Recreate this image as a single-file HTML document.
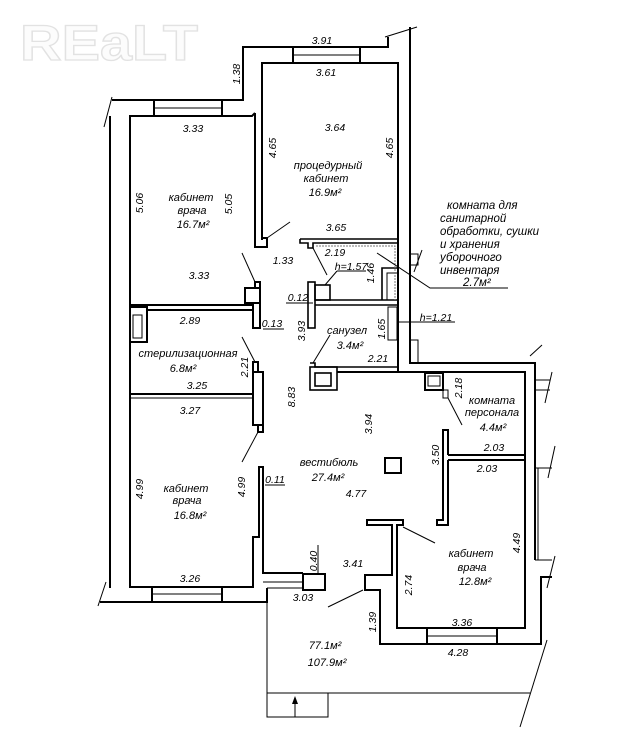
<!DOCTYPE html>
<html><head><meta charset="utf-8">
<style>
html,body{margin:0;padding:0;background:#fff;}
svg{display:block;}
text{font-family:"Liberation Sans","DejaVu Sans",sans-serif;font-style:italic;font-size:10.5px;fill:#000;}
.r{font-size:11px;}
.c{font-size:11.5px;}
</style></head><body>
<svg width="623" height="734" viewBox="0 0 623 734" xmlns="http://www.w3.org/2000/svg">
<rect width="623" height="734" fill="#fff"/>
<!-- watermark -->
<text x="20" y="60" textLength="178" lengthAdjust="spacingAndGlyphs" style="font-family:'Liberation Sans',sans-serif;font-style:normal;font-weight:bold;font-size:50px;fill:#fcfcfc;stroke:#e2e2e2;stroke-width:1.3">REaLT</text>

<!-- main walls -->
<g fill="none" stroke="#000" stroke-width="2" stroke-linejoin="miter">
  <path d="M112,100 H243 V47 H388 V37"/>
  <path d="M262,240 V63 H398 V372"/>
  <path d="M410,27 V363 H535 V560"/>
  <path d="M130,588 V116 H252 L255,113"/>
  <path d="M255,113 V247 H267 V238 H262"/>
  <path d="M110,116 V588"/>
  <path d="M100,602 H267 V588"/>
  <path d="M130,587 H253 V537 H259 V467 H263 V573 H303"/>
  <path d="M337,372 H525 V628 H397 V525 H403 V520 H367 V525 H392 V575 H365 V590 H380 V644 H427"/>
  <path d="M497,644 H541 V577 H552"/>
  <path d="M448,455 H525 M448,460 H525 M448,455 V430 H443 V520 H437 V525 H448 V460"/>
  <rect x="303" y="574" width="22" height="16"/>
  <rect x="425" y="373" width="18" height="17"/>
  <rect x="385" y="458" width="16" height="15"/>
  <!-- upper-left partitions -->
  <path d="M130,305 H253 M147,310 H253 M253,303 V328 H260 V303"/>
  <rect x="245" y="288" width="15" height="15"/>
  <rect x="255" y="282" width="5" height="6"/>
  <rect x="130" y="307" width="17" height="35"/>
  <path d="M130,394 H253"/>
  <rect x="253" y="372" width="10" height="53"/>
  <rect x="253" y="362" width="5" height="10"/>
  <rect x="258" y="425" width="5" height="7"/>
  <!-- window ends -->
  <path d="M154,100 V116 M222,100 V116"/>
  <path d="M293,47 V63 M360,47 V63"/>
  <path d="M152,587 V602 M222,587 V602"/>
  <path d="M427,628 V644 M497,628 V644 M427,644 H497"/>
</g>

<!-- bathroom / storage block -->
<g fill="none" stroke="#000" stroke-width="1.6">
  <path d="M300,239 H398 M300,239 V243 H308 V248 H313 V243 H398"/>
  <rect x="308" y="282" width="7" height="46"/>
  <rect x="315" y="285" width="15" height="15"/>
  <path d="M315,300 H398 M315,305 H398"/>
  <path d="M382,300 V268 H398"/>
  <path d="M310,363 H315 V367 H398"/>
  <rect x="310" y="367" width="27" height="23"/>
  <rect x="315" y="373" width="16" height="13"/>
</g>
<g fill="none" stroke="#000" stroke-width="1">
  <path d="M387,300 V273 H398"/>
  <rect x="388" y="307" width="9" height="33"/>
  <path d="M316,246 H395 V300" stroke="#777" stroke-dasharray="2,1"/>
  <rect x="428" y="376" width="12" height="10"/>
  <rect x="443" y="390" width="5" height="8"/>
  <rect x="133" y="315" width="9" height="23"/>
  <path d="M130,398 H253"/>
  <!-- window middles -->
  <path d="M154,108 H222 M293,55 H360 M152,594 H222 M427,636 H497 M263,582 H303 M267,588 H303"/>
  <!-- right side extras -->
  <path d="M410,254 H418 V265 H410"/>
  <path d="M422,250 L414,272"/>
  <path d="M410,340 H418 V362"/>
  <path d="M385,37 L417,27"/>
  <path d="M104,127 L112,97"/>
  <path d="M98,606 L106,582"/>
  <path d="M530,356 L542,345"/>
  <path d="M535,380 H550 M535,390 H550 M545,403 L552,372"/>
  <path d="M535,468 H552 M538,468 V560 M535,560 H552 M548,478 L555,446 M547,588 L555,556"/>
  <!-- outside area -->
  <path d="M267,588 V717 H328 V693 M267,693 H530"/>
  <path d="M547,640 L520,727"/>
  <path d="M295,717 V700"/>
  <!-- leaders -->
  <path d="M267,238 L290,222"/>
  <path d="M242,253 L255,282"/>
  <path d="M242,337 L255,362"/>
  <path d="M258,432 L242,462"/>
  <path d="M313,248 L327,275"/>
  <path d="M337,271 L325,285 M337,271 H366"/>
  <path d="M330,335 L313,363"/>
  <path d="M377,253 L430,288 H508"/>
  <path d="M398,322 H455"/>
  <path d="M448,398 L462,425"/>
  <path d="M403,527 L435,543"/>
  <path d="M328,607 L363,590"/>
  <path d="M286,303 H313"/>
  <path d="M263,329 H284"/>
  <path d="M265,485 H285"/>
  <path d="M318,545 V575"/>
</g>
<polygon points="292,704 295,696 298,704" fill="#000"/>

<!-- dimension labels -->
<g text-anchor="middle">
  <text x="322" y="44">3.91</text>
  <text x="326" y="76">3.61</text>
  <text x="193" y="132">3.33</text>
  <text x="335" y="131">3.64</text>
  <text x="336" y="231">3.65</text>
  <text x="199" y="279">3.33</text>
  <text x="283" y="264">1.33</text>
  <text x="335" y="256">2.19</text>
  <text x="351" y="270">h=1.57</text>
  <text x="298" y="301">0.12</text>
  <text x="272" y="327">0.13</text>
  <text x="190" y="324">2.89</text>
  <text x="197" y="389">3.25</text>
  <text x="190" y="414">3.27</text>
  <text x="378" y="362">2.21</text>
  <text x="436" y="321">h=1.21</text>
  <text x="494" y="451">2.03</text>
  <text x="487" y="472">2.03</text>
  <text x="356" y="497">4.77</text>
  <text x="275" y="483">0.11</text>
  <text x="190" y="582">3.26</text>
  <text x="353" y="567">3.41</text>
  <text x="303" y="601">3.03</text>
  <text x="462" y="626">3.36</text>
  <text x="458" y="656">4.28</text>

  <text transform="translate(236,74) rotate(-90)" y="4">1.38</text>
  <text transform="translate(272,148) rotate(-90)" y="4">4.65</text>
  <text transform="translate(389,148) rotate(-90)" y="4">4.65</text>
  <text transform="translate(139,203) rotate(-90)" y="4">5.06</text>
  <text transform="translate(228,204) rotate(-90)" y="4">5.05</text>
  <text transform="translate(370,273) rotate(-90)" y="4">1.46</text>
  <text transform="translate(301,331) rotate(-90)" y="4">3.93</text>
  <text transform="translate(381,329) rotate(-90)" y="4">1.65</text>
  <text transform="translate(244,367) rotate(-90)" y="4">2.21</text>
  <text transform="translate(291,397) rotate(-90)" y="4">8.83</text>
  <text transform="translate(368,424) rotate(-90)" y="4">3.94</text>
  <text transform="translate(458,388) rotate(-90)" y="4">2.18</text>
  <text transform="translate(435,455) rotate(-90)" y="4">3.50</text>
  <text transform="translate(139,489) rotate(-90)" y="4">4.99</text>
  <text transform="translate(241,487) rotate(-90)" y="4">4.99</text>
  <text transform="translate(313,561) rotate(-90)" y="4">0.40</text>
  <text transform="translate(516,543) rotate(-90)" y="4">4.49</text>
  <text transform="translate(408,585) rotate(-90)" y="4">2.74</text>
  <text transform="translate(372,622) rotate(-90)" y="4">1.39</text>
</g>

<!-- room labels -->
<g text-anchor="middle" class="r">
  <text class="r" x="328" y="169">процедурный</text>
  <text class="r" x="326" y="182">кабинет</text>
  <text class="r" x="325" y="196">16.9м²</text>
  <text class="r" x="191" y="201">кабинет</text>
  <text class="r" x="192" y="214">врача</text>
  <text class="r" x="193" y="228">16.7м²</text>
  <text class="r" x="347" y="334">санузел</text>
  <text class="r" x="350" y="349">3.4м²</text>
  <text class="r" x="188" y="357">стерилизационная</text>
  <text class="r" x="183" y="372">6.8м²</text>
  <text class="r" x="492" y="404">комната</text>
  <text class="r" x="492" y="416">персонала</text>
  <text class="r" x="493" y="431">4.4м²</text>
  <text class="r" x="329" y="466">вестибюль</text>
  <text class="r" x="328" y="481">27.4м²</text>
  <text class="r" x="186" y="492">кабинет</text>
  <text class="r" x="187" y="504">врача</text>
  <text class="r" x="190" y="519">16.8м²</text>
  <text class="r" x="471" y="557">кабинет</text>
  <text class="r" x="472" y="571">врача</text>
  <text class="r" x="475" y="585">12.8м²</text>
  <text class="r" x="325" y="649">77.1м²</text>
  <text class="r" x="327" y="666">107.9м²</text>
</g>

<!-- comment block -->
<g class="c">
  <text class="c" x="447" y="209">комната для</text>
  <text class="c" x="440" y="222">санитарной</text>
  <text class="c" x="440" y="235">обработки, сушки</text>
  <text class="c" x="440" y="248">и хранения</text>
  <text class="c" x="440" y="261">уборочного</text>
  <text class="c" x="440" y="274">инвентаря</text>
  <text class="c" x="463" y="286">2.7м²</text>
</g>
</svg>
</body></html>
